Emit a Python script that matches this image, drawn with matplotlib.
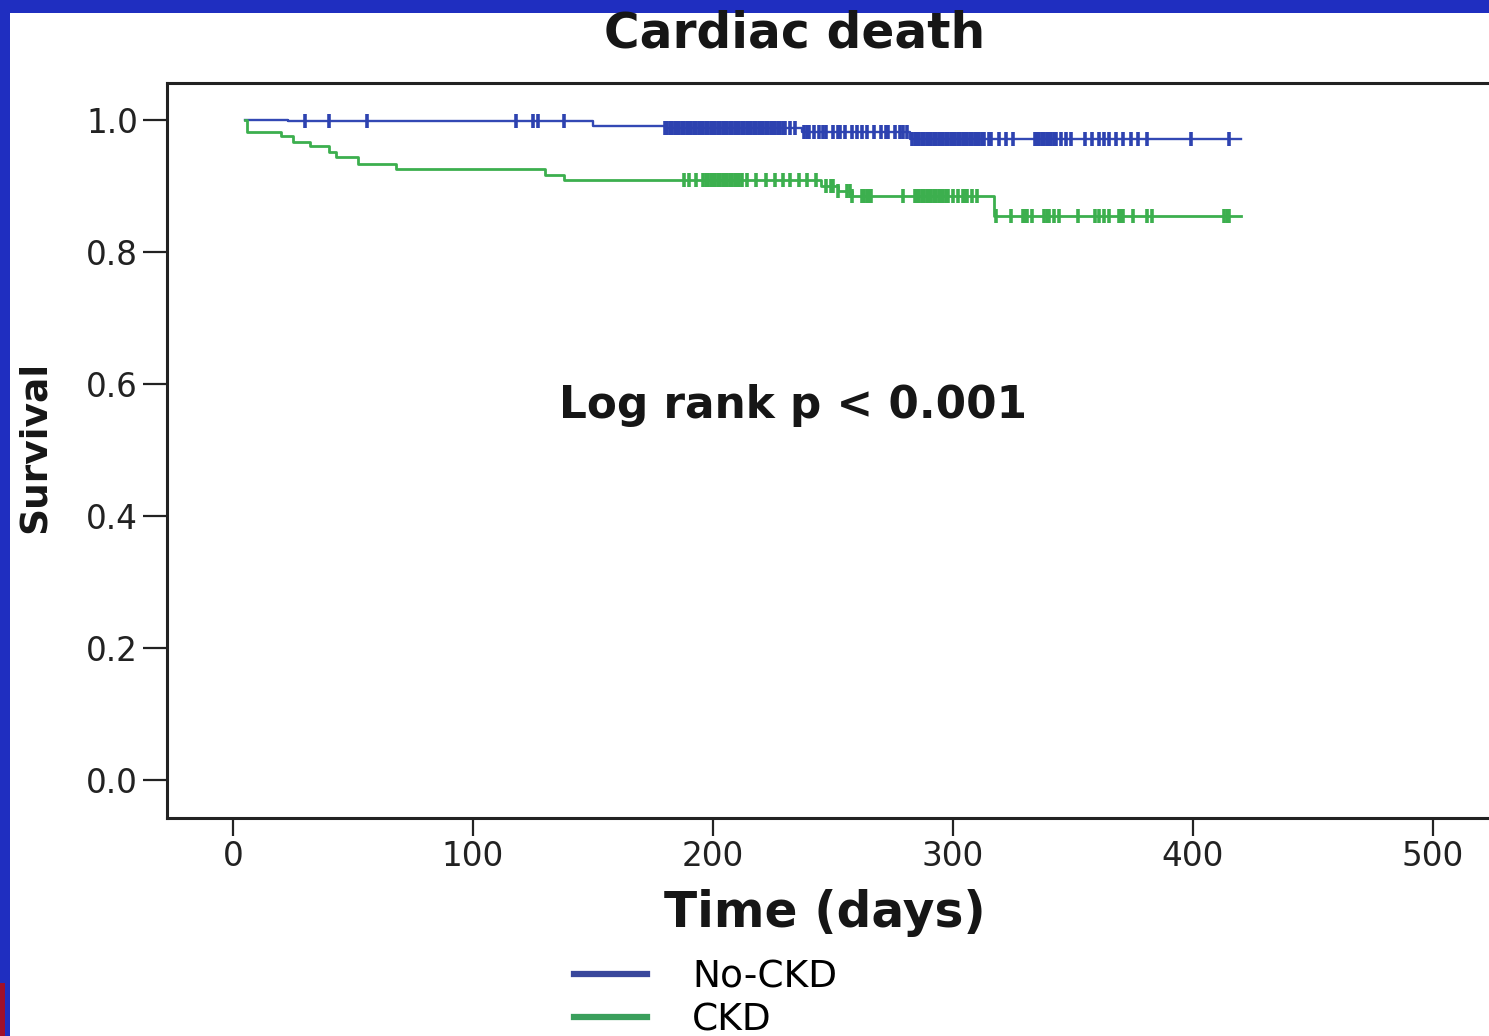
import numpy as np
import matplotlib
matplotlib.use("Agg")
import matplotlib.pyplot as plt
from matplotlib.patches import Rectangle
from matplotlib.lines import Line2D

plt.rcParams['font.family'] = ['DejaVu Sans']

# ---- data ----
nockd_times = [5, 23, 150, 180, 237, 282, 420]
nockd_surv = [1.0, 0.998, 0.991, 0.988, 0.982, 0.971, 0.971]
nockd_censor = [30, 40, 56, 118, 125, 127, 138,
                180, 181, 182, 183, 184, 185, 186, 187, 188, 189, 190, 191, 192, 193,
                194, 195, 196, 197, 198, 199, 200, 201, 202, 203, 204, 205, 206, 207,
                208, 209, 210, 211, 212, 213, 214, 215, 216, 217, 218, 219, 220, 221,
                222, 223, 224, 225, 226, 227, 228, 229, 230, 232, 234,
                238, 239, 240, 242, 244, 246, 247, 250, 252, 253, 255, 258, 260, 262,
                264, 267, 270, 272, 273, 276, 278, 279, 281,
                283, 284, 285, 286, 287, 288, 289, 290, 291, 292, 293, 294, 295, 296,
                297, 298, 299, 300, 301, 302, 303, 304, 305, 306, 307, 308, 309, 310,
                311, 312, 313, 315, 316, 319, 322, 325,
                334, 335, 336, 337, 338, 339, 340, 341, 342, 343, 345, 347, 349,
                355, 358, 361, 363, 365, 368, 371, 374, 377, 381, 399, 415]

ckd_times = [5, 6, 20, 25, 32, 40, 43, 52, 68, 130, 138, 245, 252, 258, 317, 420]
ckd_surv = [1.0, 0.982, 0.976, 0.967, 0.960, 0.952, 0.944, 0.934, 0.926, 0.917,
            0.909, 0.900, 0.892, 0.885, 0.855, 0.855]
ckd_censor = [188, 190, 193, 196, 197, 198, 199, 200, 201, 202, 203, 204, 205, 206,
              207, 208, 209, 210, 211, 212, 214, 218, 222, 226, 229, 232, 236, 239,
              243, 247, 249, 250, 252, 256, 257, 258, 262, 263, 264, 265, 266, 279,
              284, 285, 286, 287, 288, 289, 290, 291, 292, 293, 294, 295, 296, 297,
              298, 300, 302, 304, 305, 306, 308, 310, 318, 324, 329, 330, 331, 333,
              338, 339, 340, 342, 344, 352, 359, 361, 363, 365, 369, 370, 371, 375,
              381, 383, 413, 414, 415]

x_ticks = [0, 100, 200, 300, 400, 500]
y_ticks = [0.0, 0.2, 0.4, 0.6, 0.8, 1.0]
y_ticklabels = ["0.0", "0.2", "0.4", "0.6", "0.8", "1.0"]
series_labels = ["No-CKD", "CKD"]

BLUE = "#3348b4"
GREEN = "#3caf4e"
SLIDE_BLUE = "#1f2ec0"
TXT = "#161616"

W, H = 1489, 1036
fig = plt.figure(figsize=(W / 100, H / 100), dpi=100)
fig.patch.set_facecolor(SLIDE_BLUE)
fig.patches.append(Rectangle((10 / W, 0), 1 - 10 / W, 1 - 13 / H,
                             transform=fig.transFigure, facecolor="white",
                             edgecolor="none", zorder=-10))
fig.patches.append(Rectangle((0, 0), 5 / W, 53 / H, transform=fig.transFigure,
                             facecolor="#a0102a", edgecolor="none", zorder=-9))

# axes: left spine x=167, top y=83, bottom y=818; 0 day at x=233, 2.4 px/day
xmin, xmax = -27.5, 540
ax_left = 167 / W
ax_w = (xmax - xmin) * 2.4 / W
ax = fig.add_axes([ax_left, (H - 818) / H, ax_w, (818 - 83) / H])
ax.set_xlim(xmin, xmax)
ax.set_ylim(-38 / 660, 1 + 37 / 660)
ax.set_facecolor("white")


def step_value(times, surv, t):
    i = np.searchsorted(times, t, side="right") - 1
    return np.asarray(surv)[i]


ax.plot(nockd_times, nockd_surv, drawstyle="steps-post", color=BLUE, lw=1.7)
ax.plot(ckd_times, ckd_surv, drawstyle="steps-post", color=GREEN, lw=2.0)
ax.plot(nockd_censor, step_value(nockd_times, nockd_surv, nockd_censor),
        ls="none", marker="|", ms=10, mew=2.6, color="#2d42b0")
ax.plot(ckd_censor, step_value(ckd_times, ckd_surv, ckd_censor),
        ls="none", marker="|", ms=10, mew=2.6, color=GREEN)

ax.text(233.5, 0.568, "Log rank p < 0.001", ha="center", va="center",
        fontsize=31.5, fontweight="bold", color=TXT)

for s in ["top", "left", "bottom", "right"]:
    ax.spines[s].set_linewidth(2.2)
    ax.spines[s].set_color("#222222")

ax.set_xticks(x_ticks)
ax.set_xticklabels([str(v) for v in x_ticks])
ax.set_yticks(y_ticks)
ax.set_yticklabels(y_ticklabels)
ax.tick_params(axis="y", length=17, width=1.6, pad=4, labelsize=23.5,
               colors="#222222")
ax.tick_params(axis="x", length=13, width=1.6, pad=3, labelsize=23.5,
               colors="#222222")

fig.text(795 / W, 1 - 34 / H, "Cardiac death", ha="center", va="center",
         fontsize=35, fontweight="bold", color=TXT)
fig.text(35 / W, 1 - 447 / H, "Survival", ha="center", va="center",
         rotation=90, fontsize=27, fontweight="bold", color=TXT)
fig.text(825 / W, 1 - 913 / H, "Time (days)", ha="center", va="center",
         fontsize=35, fontweight="bold", color=TXT)

handles = [Line2D([], [], color="#39479c", lw=4.5),
           Line2D([], [], color="#3a9f5c", lw=4.5)]
fig.legend(handles, series_labels, loc="upper left",
           bbox_to_anchor=(574 / W, 1 - 959 / H), frameon=False,
           fontsize=27, handlelength=1.95, handletextpad=1.2,
           labelspacing=0.2, borderaxespad=0, borderpad=0)

fig.savefig("out.png", dpi=100, facecolor=fig.get_facecolor())
